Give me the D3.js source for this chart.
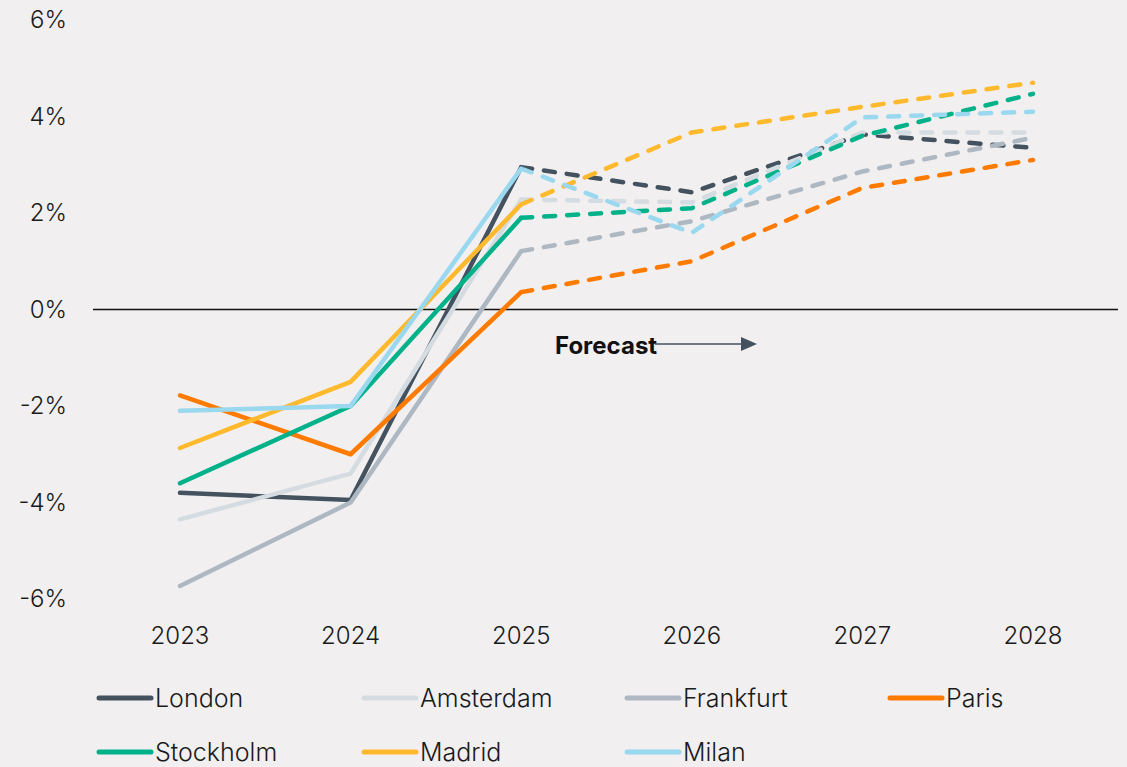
<!DOCTYPE html>
<html>
<head>
<meta charset="utf-8">
<style>
  html, body { margin: 0; padding: 0; background: #f1efef; }
  svg { display: block; font-family: Inter, "DejaVu Sans", sans-serif; }
</style>
</head>
<body>
<svg width="1127" height="767"></svg>
<script src="https://d3js.org/d3.v7.min.js"></script>
<script>

var years = [2023, 2024, 2025, 2026, 2027, 2028];
var yTicks = [-6, -4, -2, 0, 2, 4, 6];
var forecastFrom = 2025;

var cities = ["London", "Amsterdam", "Frankfurt", "Paris", "Stockholm", "Madrid", "Milan"];
var colors = ["#44525f", "#d5dce1", "#adb8c3", "#ff7b00", "#00b189", "#ffb92d", "#9ad8f0"];

var london    = [-3.8, -3.95, 2.95, 2.43, 3.63, 3.35];
var amsterdam = [-4.35, -3.4, 2.28, 2.22, 3.67, 3.67];
var frankfurt = [-5.73, -4.0, 1.21, 1.83, 2.86, 3.56];
var paris     = [-1.78, -3.0, 0.36, 1.0, 2.52, 3.1];
var stockholm = [-3.6, -2.0, 1.9, 2.1, 3.6, 4.47];
var madrid    = [-2.87, -1.5, 2.18, 3.67, 4.2, 4.7];
var milan     = [-2.1, -2.0, 2.92, 1.59, 3.98, 4.1];

var values = [london, amsterdam, frankfurt, paris, stockholm, madrid, milan];

var svg = d3.select("svg");

var x = d3.scaleLinear().domain([2023, 2028]).range([180, 1033]);
var y = d3.scaleLinear().domain([-6, 6]).range([599, 20]);

// y labels
svg.append("g").selectAll("text")
  .data(yTicks)
  .enter().append("text")
    .attr("x", 67)
    .attr("y", function(d) { return y(d); })
    .attr("dy", "0.35em")
    .attr("text-anchor", "end")
    .attr("font-size", 24)
    .attr("font-weight", 300)
    .attr("fill", "#1a1a1a")
    .text(function(d) { return d + "%"; });

// x labels
svg.append("g").selectAll("text")
  .data(years)
  .enter().append("text")
    .attr("x", function(d) { return x(d); })
    .attr("y", 636)
    .attr("dy", "0.35em")
    .attr("text-anchor", "middle")
    .attr("font-size", 24)
    .attr("font-weight", 300)
    .attr("fill", "#1a1a1a")
    .text(function(d) { return d; });

// zero line
svg.append("line")
    .attr("x1", 93).attr("x2", 1118)
    .attr("y1", y(0)).attr("y2", y(0))
    .attr("stroke", "#111")
    .attr("stroke-width", 1.5);

var line = d3.line()
    .x(function(d) { return x(d[0]); })
    .y(function(d) { return y(d[1]); });

var series = cities.map(function(c, i) {
  var pts = years.map(function(yr, j) { return [yr, values[i][j]]; });
  return {
    name: c,
    color: colors[i],
    actual: pts.filter(function(p) { return p[0] <= forecastFrom; }),
    forecast: pts.filter(function(p) { return p[0] >= forecastFrom; })
  };
});

var g = svg.append("g").attr("fill", "none").attr("stroke-linecap", "round").attr("stroke-linejoin", "round");

series.forEach(function(s) {
  g.append("path")
      .attr("d", line(s.forecast))
      .attr("stroke", s.color)
      .attr("stroke-width", 4.5)
      .attr("stroke-dasharray", "11,12");
});
series.forEach(function(s) {
  g.append("path")
      .attr("d", line(s.actual))
      .attr("stroke", s.color)
      .attr("stroke-width", 4.5);
});

// forecast label + arrow
svg.append("text")
    .attr("x", 555)
    .attr("y", 346)
    .attr("dy", "0.35em")
    .attr("font-size", 24)
    .attr("font-weight", "bold")
    .attr("fill", "#111")
    .text("Forecast");

svg.append("line")
    .attr("x1", 655).attr("x2", 745)
    .attr("y1", 344).attr("y2", 344)
    .attr("stroke", "#44525f")
    .attr("stroke-width", 1.5);

svg.append("path")
    .attr("d", "M741,337L757,344L741,351Z")
    .attr("fill", "#44525f");

// legend
var legendCols = [97, 362, 625, 888];
var legendRows = [698, 752];

var legend = svg.append("g").selectAll("g")
  .data(series)
  .enter().append("g")
    .attr("transform", function(d, i) {
      return "translate(" + legendCols[i % 4] + "," + legendRows[Math.floor(i / 4)] + ")";
    });

legend.append("line")
    .attr("x1", 2).attr("x2", 54)
    .attr("stroke", function(d) { return d.color; })
    .attr("stroke-width", 5)
    .attr("stroke-linecap", "round");

legend.append("text")
    .attr("x", 58)
    .attr("dy", "0.35em")
    .attr("font-size", 25)
    .attr("font-weight", 300)
    .attr("fill", "#1a1a1a")
    .text(function(d) { return d.name; });

</script>
</body>
</html>
